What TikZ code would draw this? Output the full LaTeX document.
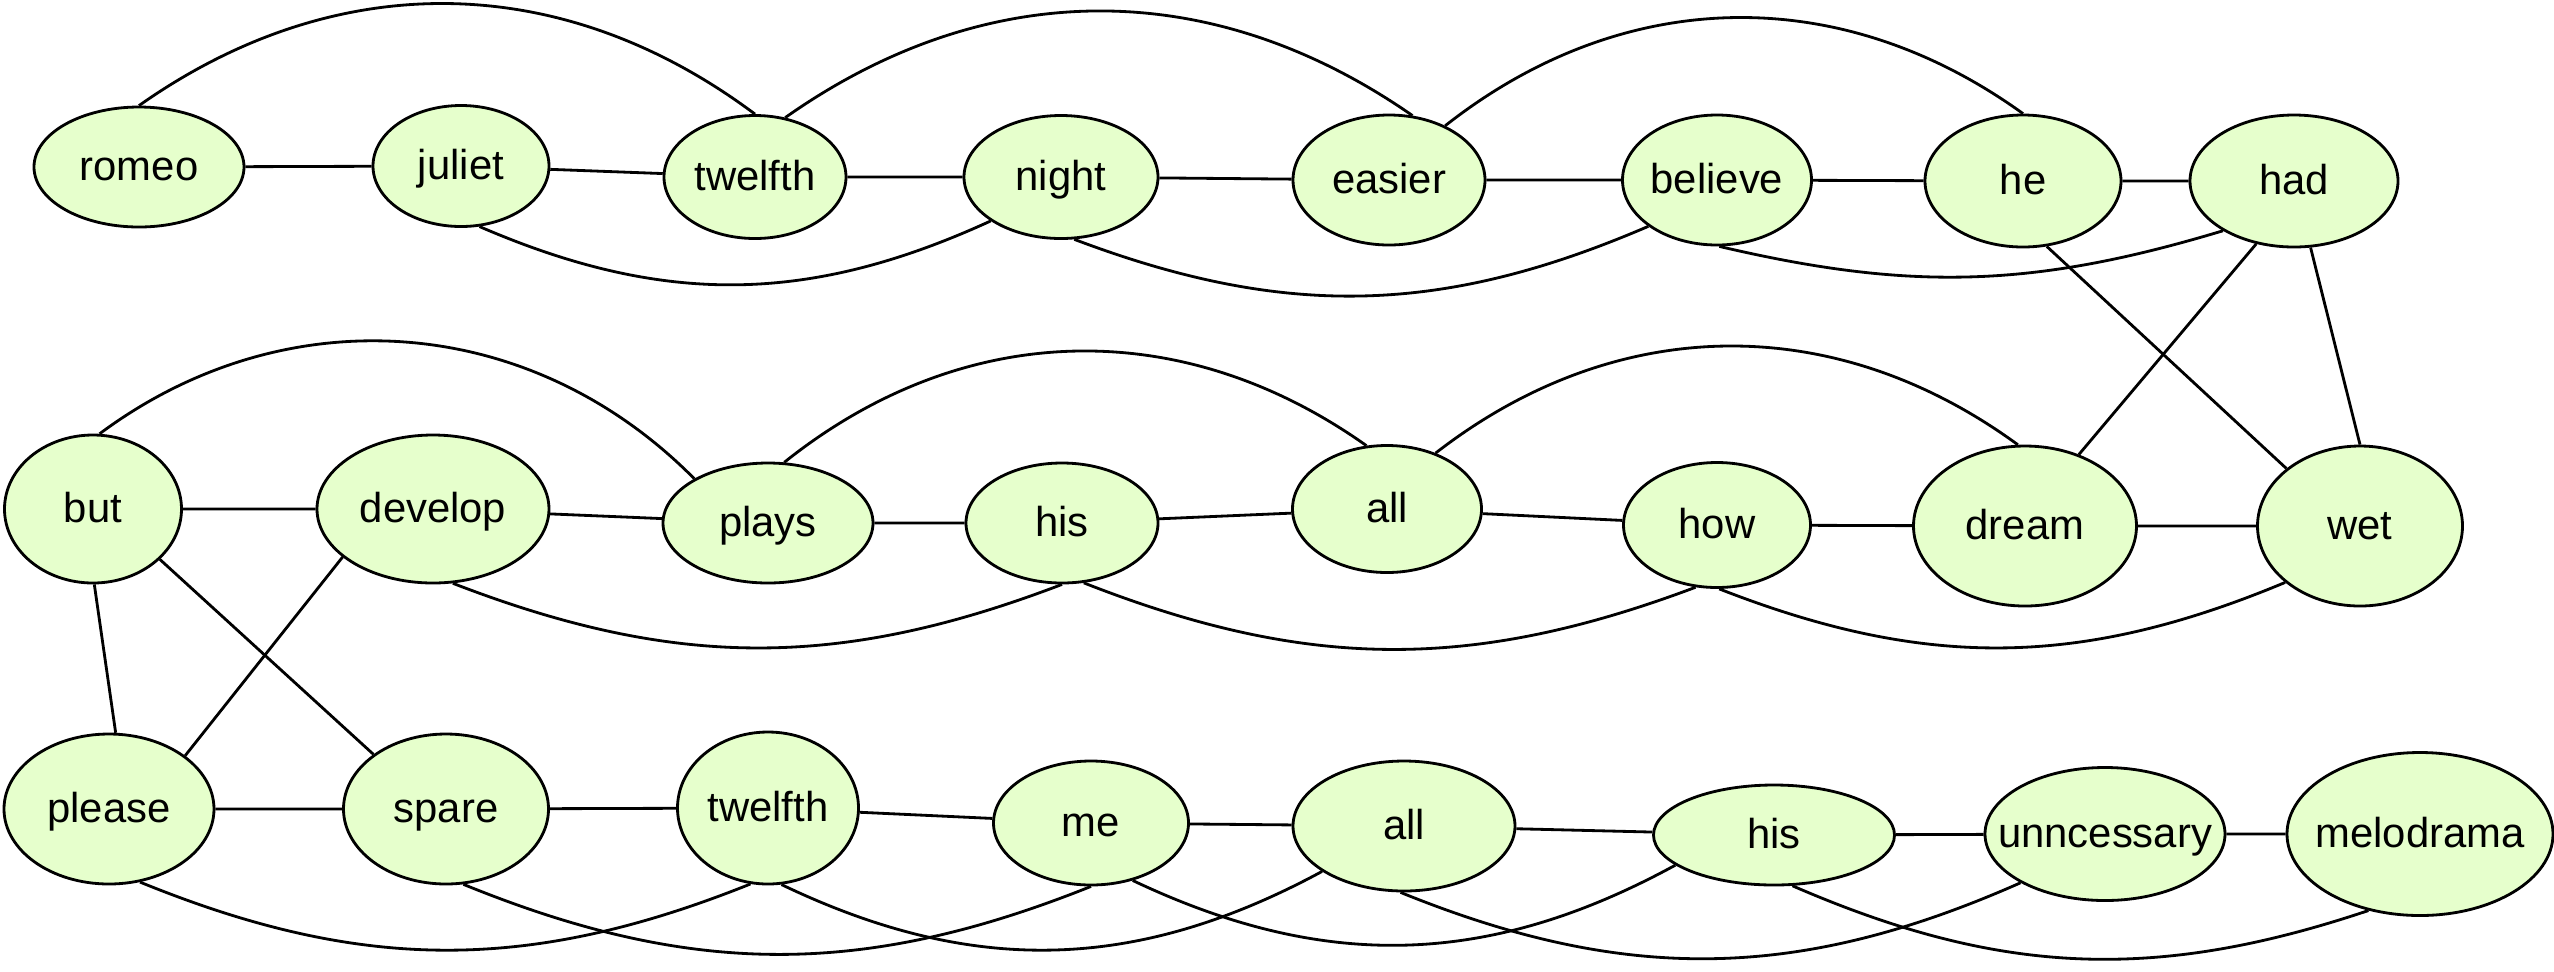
\documentclass[tikz,border=0pt]{standalone}
\usepackage{fontspec}
\setmainfont{Liberation Sans}
\usetikzlibrary{shapes.geometric}
\definecolor{wordfill}{RGB}{230,255,204}
\newcommand{\makeword}[6]{
	\node[word, minimum width=#4*0.1mm, minimum height=#5*0.1mm] (#1) at (#2,#3) {\makebox[0pt]{#6}};
}

\begin{document}
\begin{tikzpicture}[x=0.1mm,y=-0.1mm,
	word/.style={ellipse, draw, line width=0.8pt, fill=wordfill, inner sep=0pt,
		text height=7.4pt, text depth=0pt, font=\fontsize{11.9}{14}\selectfont},
	link/.style={line width=0.8pt}]
	\useasboundingbox (0,0) rectangle (2554,971);

	% first sentence
	\makeword{romeo}{139}{167}{210}{120}{romeo}
	\makeword{juliet}{461}{166}{176}{121}{juliet}
	\makeword{twelfthA}{755}{177}{182}{123}{twelfth}
	\makeword{night}{1061}{177}{194}{123}{night}
	\makeword{easier}{1389}{180}{192}{130}{easier}
	\makeword{believe}{1717}{180}{189}{130}{believe}
	\makeword{he}{2023}{181}{196}{132}{he}
	\makeword{had}{2294}{181}{208}{132}{had}

	% second sentence
	\makeword{but}{93}{509}{177}{148}{but}
	\makeword{develop}{433}{509}{232}{148}{develop}
	\makeword{plays}{768}{523}{210}{120}{plays}
	\makeword{hisA}{1062}{523}{192}{120}{his}
	\makeword{allA}{1387}{509}{189}{127}{all}
	\makeword{how}{1717}{525}{187}{125}{how}
	\makeword{dream}{2025}{526}{223}{160}{dream}
	\makeword{wet}{2360}{526}{205}{160}{wet}

	% third sentence
	\makeword{please}{109}{809}{210}{150}{please}
	\makeword{spare}{446}{809}{205}{150}{spare}
	\makeword{twelfthB}{768}{808}{181}{152}{twelfth}
	\makeword{me}{1091}{823}{195}{124}{me}
	\makeword{allB}{1404}{826}{222}{130}{all}
	\makeword{hisB}{1774}{835}{241}{100}{his}
	\makeword{unncessary}{2105}{834}{240}{133}{unncessary}
	\makeword{melodrama}{2420}{834}{266}{163}{melodrama}

	% neighbours
	\draw[link] (romeo) -- (juliet) -- (twelfthA) -- (night) -- (easier) -- (believe) -- (he) -- (had);
	\draw[link] (but) -- (develop) -- (plays) -- (hisA) -- (allA) -- (how) -- (dream) -- (wet);
	\draw[link] (please) -- (spare) -- (twelfthB) -- (me) -- (allB) -- (hisB) -- (unncessary) -- (melodrama);
	\draw[link] (had.-121) -- (dream.53);
	\draw[link] (had.-76) -- (wet.90);
	\draw[link] (he.-70) -- (wet.142);
	\draw[link] (but.-89) -- (please.85);
	\draw[link] (but.-37) -- (spare.143);
	\draw[link] (develop.-152) -- (please.35);

	% skip one word, above
	\draw[link] (romeo.90) to[bend left=36] (twelfthA.90);
	\draw[link] (twelfthA.63) to[bend left=35] (easier.70);
	\draw[link] (easier.44) to[bend left=37] (he.90);
	\draw[link] (but.85) to[bend left=41] (plays.149);
	\draw[link] (plays.75) to[bend left=37] (allA.108);
	\draw[link] (allA.49) to[bend left=37] (dream.95);

	% skip one word, below
	\draw[link] (juliet.-73) to[bend right=24] (night.-148);
	\draw[link] (night.-78) to[bend right=22] (believe.-146);
	\draw[link] (believe.-88) to[bend right=15] (had.-145);
	\draw[link] (develop.-75) to[bend right=21] (hisA.-90);
	\draw[link] (hisA.-70) to[bend right=21] (how.-109);
	\draw[link] (how.-88) to[bend right=22] (wet.-143);
	\draw[link] (please.-67) to[bend right=22] (twelfthB.-103);
	\draw[link] (spare.-77) to[bend right=22] (me.-90);
	\draw[link] (twelfthB.-80) to[bend right=27] (allB.-151);
	\draw[link] (me.-54) to[bend right=27] (hisB.-163);
	\draw[link] (allB.-93) to[bend right=23] (unncessary.-150);
	\draw[link] (hisB.-70) to[bend right=21] (melodrama.-124);
\end{tikzpicture}
\end{document}
